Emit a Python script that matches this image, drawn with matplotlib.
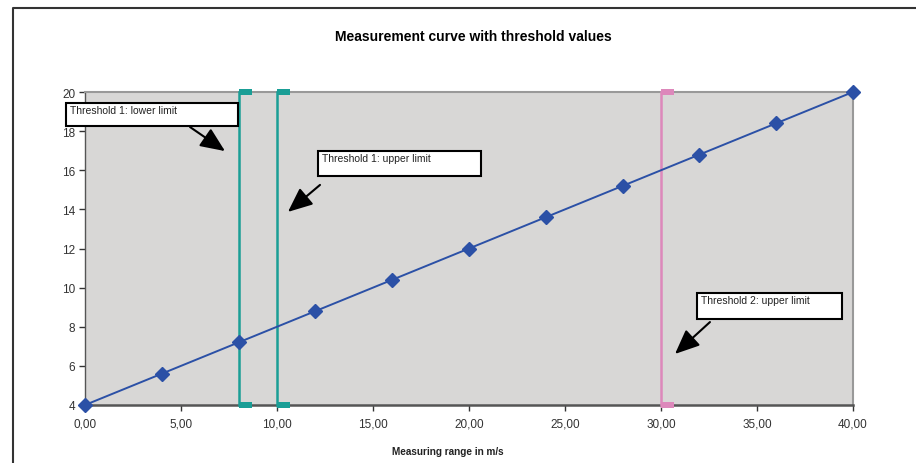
import matplotlib
matplotlib.use("Agg")
import matplotlib.pyplot as plt
from matplotlib.path import Path
from matplotlib.patches import Rectangle
from matplotlib.lines import Line2D

plt.rcParams['font.family'] = ['Liberation Sans', 'DejaVu Sans']

# Data
x_vals = [0, 4, 8, 12, 16, 20, 24, 28, 32, 36, 40]
y_vals = [4, 5.6, 7.2, 8.8, 10.4, 12, 13.6, 15.2, 16.8, 18.4, 20]
thresholds = [8, 10, 30]
threshold_colors = ['#1a9e96', '#1a9e96', '#dd88bb']
x_ticks = [0, 5, 10, 15, 20, 25, 30, 35, 40]
x_tick_labels = ['0,00', '5,00', '10,00', '15,00', '20,00', '25,00', '30,00', '35,00', '40,00']
y_ticks = [4, 6, 8, 10, 12, 14, 16, 18, 20]
title = 'Measurement curve with threshold values'
xlabel = 'Measuring range in m/s'
notes = ['Threshold 1: lower limit', 'Threshold 1: upper limit', 'Threshold 2: upper limit']

W, H = 916, 464
fig = plt.figure(figsize=(W / 100, H / 100), dpi=100)
ax = fig.add_axes([85 / W, 1 - 406 / H, (853 - 85) / W, (406 - 93) / H])
ax.set_facecolor('#d8d7d6')

# flag marker (square offset to the right of the line)
flag = Path([(0, -0.5), (2, -0.5), (2, 0.5), (0, 0.5), (0, -0.5)],
            [Path.MOVETO, Path.LINETO, Path.LINETO, Path.LINETO, Path.CLOSEPOLY])

for t, c in zip(thresholds, threshold_colors):
    ax.plot([t, t], [y_ticks[0], y_ticks[-1]], color=c, lw=1.8, marker=flag,
            markersize=19, markeredgewidth=0, markerfacecolor=c, clip_on=False, zorder=3)

ax.plot(x_vals, y_vals, color='#2b50a6', lw=1.4, marker='D', markersize=7.5,
        markerfacecolor='#2b50a6', markeredgecolor='#2b50a6', clip_on=False, zorder=4)

ax.set_xlim(0, 40)
ax.set_ylim(4, 20)
ax.set_xticks(x_ticks)
ax.set_xticklabels(x_tick_labels)
ax.set_yticks(y_ticks)
ax.tick_params(axis='both', labelsize=8.5, colors='#333333', length=4, width=1, direction='out')
ax.tick_params(axis='x', pad=5)
ax.tick_params(axis='y', pad=3)

for side in ['top', 'right']:
    ax.spines[side].set_color('#999999')
    ax.spines[side].set_linewidth(1.5)
ax.spines['bottom'].set_color('#555555')
ax.spines['bottom'].set_linewidth(1.8)
ax.spines['left'].set_color('#555555')
ax.spines['left'].set_linewidth(1.0)

# annotation boxes: (x0, x1, y_top, y_bottom), arrow start, arrow tip
boxes = [
    ((-0.99, 7.97, 19.44, 18.26), (5.47, 18.21), (7.29, 16.98)),
    ((12.14, 20.63, 16.98, 15.71), (12.24, 15.25), (10.57, 13.87)),
    ((31.88, 39.43, 9.73, 8.40), (32.55, 8.24), (30.73, 6.61)),
]
for txt, (bx, a0, a1) in zip(notes, boxes):
    x0, x1, yt, yb = bx
    rect = Rectangle((x0, yb), x1 - x0, yt - yb, facecolor='white', edgecolor='black',
                     lw=1.5, clip_on=False, zorder=6)
    ax.add_patch(rect)
    ax.text(x0 + 0.22, yt - 0.12, txt, fontsize=7.5, color='#222222', ha='left', va='top',
            zorder=7, clip_on=False)
    ax.annotate('', xy=a1, xytext=a0,
                arrowprops=dict(arrowstyle='-|>,head_length=1.5,head_width=0.65',
                                color='black', lw=1.5, shrinkA=0, shrinkB=0),
                zorder=6, annotation_clip=False)

fig.text(473 / W, 1 - 37 / H, title, fontsize=10, fontweight='bold', ha='center', va='center')
fig.text(448 / W, 1 - 452 / H, xlabel, fontsize=7.2, fontweight='bold', ha='center', va='center',
         color='#222222')

# outer frame
fig.add_artist(Line2D([13 / W, 13 / W, 1.0], [0, 1 - 9 / H, 1 - 9 / H],
                      transform=fig.transFigure, color='#333333', lw=1.5))

fig.savefig('out.png', dpi=100)
